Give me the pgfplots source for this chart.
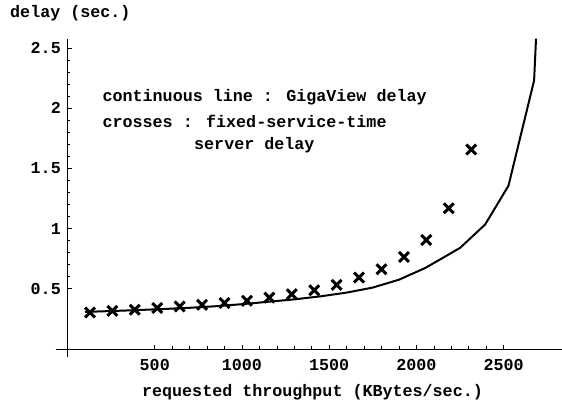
\documentclass[border=0pt]{standalone}
\usepackage{fontspec}
\setmainfont{Liberation Mono}
\usepackage{pgfplots}
\pgfplotsset{compat=1.18}
\begin{document}
\fontsize{16.7}{20}\selectfont\bfseries
\begin{tikzpicture}
\begin{axis}[
  scale only axis, width=506.5pt, height=317.3pt,
  xmin=-69, xmax=2835, ymin=-0.064, ymax=2.57,
  axis lines=middle, axis line style={-, line width=0.8pt},
  xtick={500,1000,1500,2000,2500}, ytick={0.5,1,1.5,2,2.5},
  minor x tick num=4, minor y tick num=4,
  tick align=inside,
  major tick length=4pt, minor tick length=2.5pt,
  tick style={black, line width=0.6pt},
  scaled ticks=false,
  /pgf/number format/1000 sep={},
  /pgf/number format/assume math mode=true,
  ticklabel style={font=\fontsize{16.7}{20}\selectfont\bfseries},
  xticklabel style={yshift=-5pt},
  yticklabel style={xshift=-1pt},
  clip=false,
]
\addplot[black, line width=2pt, line join=round] coordinates {
 (100,0.308) (250,0.315) (400,0.323) (550,0.332) (700,0.342) (850,0.355)
 (1000,0.372) (1150,0.392) (1300,0.412) (1450,0.437) (1600,0.468)
 (1750,0.510) (1900,0.575) (2050,0.672) (2150,0.755) (2251,0.840)
 (2394,1.033) (2528,1.355) (2675,2.229) (2686,2.576)
};
\addplot[only marks, mark=x, mark size=7pt, mark options={black, line width=3pt}] coordinates {
 (128.6,0.303) (257.1,0.317) (385.7,0.326) (514.3,0.340) (642.9,0.353)
 (771.4,0.367) (900.0,0.381) (1028.6,0.400) (1157.1,0.427) (1285.7,0.455)
 (1414.3,0.488) (1542.9,0.532) (1671.4,0.593) (1800.0,0.662) (1928.6,0.764)
 (2057.1,0.905) (2185.7,1.168) (2314.3,1.656)
};
\node[anchor=west, inner sep=0pt] at (axis cs:200,2.092) {continuous line : GigaView delay};
\node[anchor=west, inner sep=0pt] at (axis cs:200,1.891) {crosses : fixed-service-time};
\node[anchor=west, inner sep=0pt] at (axis cs:725,1.693) {server delay};
\node[anchor=west, inner sep=0pt] at (rel axis cs:-0.0898,1.0832) {delay (sec.)};
\node[inner sep=0pt] at (rel axis cs:0.5074,-0.1128) {requested throughput (KBytes/sec.)};
\coordinate (bl) at (rel axis cs:-0.1096,-0.1428);
\coordinate (tr) at (rel axis cs:1.0,1.1242);
\end{axis}
\pgfresetboundingbox
\useasboundingbox (bl) rectangle (tr);
\end{tikzpicture}
\end{document}
